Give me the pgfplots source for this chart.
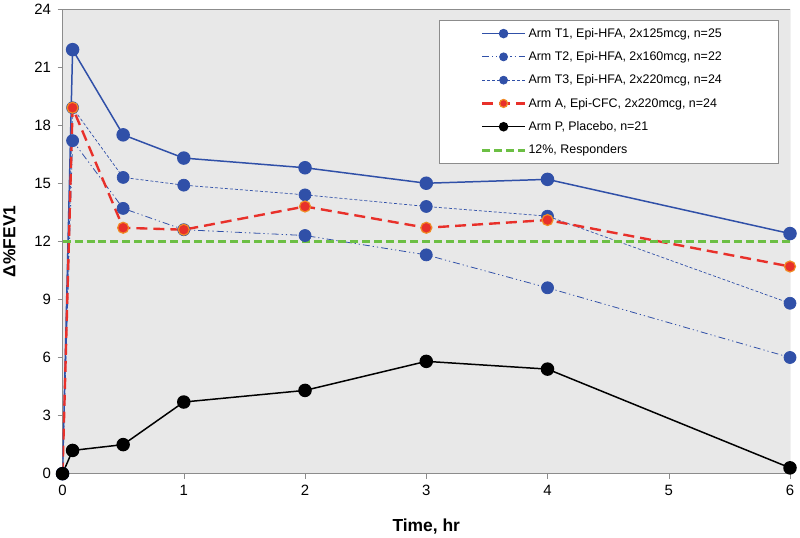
\documentclass[border=0pt]{standalone}
\usepackage{pgfplots}
\pgfplotsset{compat=1.18}
\usepackage{fontspec}
\setmainfont{Liberation Sans}
\definecolor{armblue}{HTML}{3050A8}
\definecolor{armred}{HTML}{E8302A}
\definecolor{armorange}{HTML}{F08A24}
\definecolor{resgreen}{HTML}{6CBF44}
\definecolor{plotbg}{HTML}{E8E8E8}
\definecolor{axgray}{HTML}{8C8C8C}
\newcommand{\pad}{\hspace*{13bp}}

\begin{document}
\begin{tikzpicture}
  \begin{axis}[
    scale only axis,
    width=728bp, height=465bp,
    xmin=0, xmax=6, ymin=0, ymax=24,
    xtick={0,1,...,6},
    ytick={0,3,...,24},
    axis background/.style={fill=plotbg},
    axis line style={axgray},
    axis x line*=bottom, axis y line*=left,
    tick style={axgray},
    tick align=outside,
    major tick length=5bp,
    tick label style={font=\fontsize{15}{17}\selectfont},
    xticklabel style={yshift=-3bp},
    yticklabel style={xshift=-3bp},
    /pgf/number format/assume math mode=true,
    xlabel={Time, hr},
    ylabel={Δ\%FEV1},
    label style={font=\fontsize{17.5}{20}\selectfont\bfseries},
    xlabel style={yshift=-16bp},
    ylabel style={yshift=12bp},
    legend style={at={(rel axis cs:0.9835,0.976)}, anchor=north east,
      draw=axgray, fill=white, font=\fontsize{12.5}{15}\selectfont,
      row sep=8.8bp, inner xsep=41bp, inner ysep=6bp},
    legend cell align=left,
    legend image code/.code={
      \draw[#1, mark=none] (0bp,0bp) -- (43bp,0bp);
      \draw[#1, solid, mark size=4bp] plot coordinates {(21.5bp,0bp)};
    },
  ]
    \addplot[armblue, line width=1.5pt, mark=*, mark size=6bp,
      mark options={solid, fill=armblue, draw=armblue}]
      coordinates {(0,0) (0.083,21.9) (0.5,17.5) (1,16.3) (2,15.8) (3,15.0) (4,15.2) (6,12.4)};
    \addlegendentry{Arm T1, Epi-HFA, 2x125mcg, n=25\pad}
    \addplot[armblue, line width=0.8pt, dash pattern=on 7bp off 3bp on 1.2bp off 3bp on 1.2bp off 3bp,
      mark=*, mark size=6bp, mark options={solid, fill=armblue, draw=armblue}]
      coordinates {(0,0) (0.083,17.2) (0.5,13.7) (1,12.6) (2,12.3) (3,11.3) (4,9.6) (6,6.0)};
    \addlegendentry{Arm T2, Epi-HFA, 2x160mcg, n=22\pad}
    \addplot[armblue, line width=0.7pt, dash pattern=on 3bp off 2bp,
      mark=*, mark size=6bp, mark options={solid, fill=armblue, draw=armblue}]
      coordinates {(0,0) (0.083,18.9) (0.5,15.3) (1,14.9) (2,14.4) (3,13.8) (4,13.3) (6,8.8)};
    \addlegendentry{Arm T3, Epi-HFA, 2x220mcg, n=24\pad}
    \addplot[armred, line width=2.4pt, dash pattern=on 11bp off 6bp,
      mark=*, mark size=5.5bp, mark options={solid, fill=armred, draw=armorange, line width=1.2pt}]
      coordinates {(0,0) (0.083,18.9) (0.5,12.7) (1,12.6) (2,13.8) (3,12.7) (4,13.1) (6,10.7)};
    \addlegendentry{Arm A, Epi-CFC, 2x220mcg, n=24\pad}
    \addplot[black, line width=1.5pt, mark=*, mark size=6bp,
      mark options={solid, fill=black}]
      coordinates {(0,0) (0.083,1.2) (0.5,1.5) (1,3.7) (2,4.3) (3,5.8) (4,5.4) (6,0.3)};
    \addlegendentry{Arm P, Placebo, n=21}
    \addplot[color=resgreen, line width=3bp, dash pattern=on 8bp off 4bp, mark=none]
      coordinates {(0,12) (6,12)};
    \addlegendentry{12\%, Responders}
    \draw[axgray] (rel axis cs:0,1) -- (rel axis cs:1,1) -- (rel axis cs:1,0);
  \end{axis}
  \path (-62bp,-60bp) rectangle (738bp,474bp);
\end{tikzpicture}
\end{document}
